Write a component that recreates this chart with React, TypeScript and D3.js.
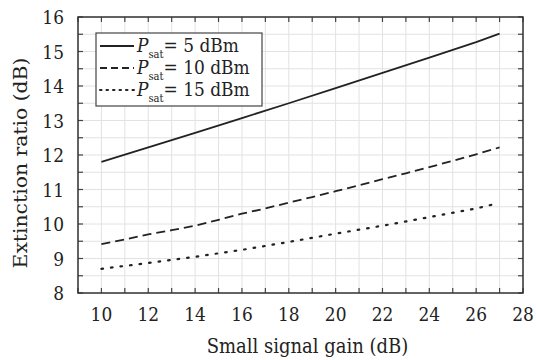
import React from 'react';
import * as d3 from 'd3';

const gain5 = [10, 12, 14, 16, 18, 20, 22, 24, 26, 27];
const ratio5 = [11.8, 12.22, 12.64, 13.07, 13.5, 13.94, 14.38, 14.82, 15.27, 15.52];

const gain10 = [10, 11, 12, 13, 14, 15, 16, 17, 18, 19, 20, 21, 22, 23, 24, 25, 26, 27];
const ratio10 = [9.42, 9.55, 9.7, 9.82, 9.95, 10.12, 10.3, 10.45, 10.62, 10.78, 10.95, 11.12, 11.3, 11.47, 11.65, 11.83, 12.02, 12.22];

const gain15 = [10, 12, 14, 16, 18, 20, 22, 24, 26, 26.8];
const ratio15 = [8.7, 8.87, 9.05, 9.25, 9.48, 9.72, 9.95, 10.2, 10.45, 10.58];

const xTicks = [10, 12, 14, 16, 18, 20, 22, 24, 26, 28];
const yTicks = [8, 9, 10, 11, 12, 13, 14, 15, 16];
const legendLabels = ['5 dBm', '10 dBm', '15 dBm'];

const W = 536;
const H = 360;
const margin = { top: 17, right: 13, bottom: 67, left: 78 };
const font = '"DejaVu Serif", serif';
const ink = '#222';
// the original figure is slightly stretched vertically
const stretch = 1.13;

const series = [
  { gains: gain5, ratios: ratio5, dash: undefined },
  { gains: gain10, ratios: ratio10, dash: '9,5' },
  { gains: gain15, ratios: ratio15, dash: '1.6,8' },
];

const Label: React.FC<{ x: number; y: number; anchor?: string; size?: number; rotate?: number; children: React.ReactNode }> = ({
  x, y, anchor = 'start', size = 17, rotate = 0, children,
}) => (
  <g transform={`translate(${x},${y}) scale(1,${stretch})${rotate ? ` rotate(${rotate})` : ''}`}>
    <text x={0} y={0} textAnchor={anchor} fontFamily={font} fontSize={size} fill={ink}>
      {children}
    </text>
  </g>
);

const App: React.FC = () => {
  const x = d3.scaleLinear().domain([9, 28]).range([margin.left, W - margin.right]);
  const y = d3.scaleLinear().domain([8, 16]).range([H - margin.bottom, margin.top]);

  const xGrid = d3.range(9, 28.01, 1);
  const yGrid = d3.range(8, 16.01, 0.5);

  return (
    <svg width={W} height={H} style={{ position: 'absolute', left: 0, top: 0, background: '#fff' }}>
      {/* grid */}
      {xGrid.map((v) => (
        <line key={'gx' + v} x1={x(v)} x2={x(v)} y1={y(8)} y2={y(16)} stroke="#e2e2e2" strokeWidth={1} />
      ))}
      {yGrid.map((v) => (
        <line key={'gy' + v} x1={x(9)} x2={x(28)} y1={y(v)} y2={y(v)} stroke="#e2e2e2" strokeWidth={1} />
      ))}

      {/* inward ticks on all sides */}
      {xGrid.map((v) => (
        <g key={'tx' + v}>
          <line x1={x(v)} x2={x(v)} y1={y(8)} y2={y(8) - 5} stroke="#444" strokeWidth={1.2} />
          <line x1={x(v)} x2={x(v)} y1={y(16)} y2={y(16) + 5} stroke="#444" strokeWidth={1.2} />
        </g>
      ))}
      {yGrid.map((v) => (
        <g key={'ty' + v}>
          <line x1={x(9)} x2={x(9) + 5} y1={y(v)} y2={y(v)} stroke="#444" strokeWidth={1.2} />
          <line x1={x(28)} x2={x(28) - 5} y1={y(v)} y2={y(v)} stroke="#444" strokeWidth={1.2} />
        </g>
      ))}

      {/* data lines */}
      {series.map((s, i) => {
        const pts = s.gains.map((g, j) => [x(g), y(s.ratios[j])] as [number, number]);
        const path = d3.line()(pts) || '';
        return (
          <path key={'s' + i} d={path} fill="none" stroke={ink} strokeWidth={i === 2 ? 2.2 : 1.8}
            strokeDasharray={s.dash} strokeLinecap={i === 2 ? 'round' : 'butt'} />
        );
      })}

      {/* frame */}
      <rect x={x(9)} y={y(16)} width={x(28) - x(9)} height={y(8) - y(16)} fill="none" stroke="#333" strokeWidth={1.5} />

      {/* tick labels */}
      {xTicks.map((v) => (
        <Label key={'lx' + v} x={x(v)} y={y(8) + 28} anchor="middle">{v}</Label>
      ))}
      {yTicks.map((v) => (
        <Label key={'ly' + v} x={margin.left - 14} y={y(v) + 7} anchor="end">{v}</Label>
      ))}

      {/* axis titles */}
      <Label x={(x(9) + x(28)) / 2 + 7} y={H - 7} anchor="middle" size={18}>Small signal gain (dB)</Label>
      <Label x={27} y={(y(8) + y(16)) / 2 + 8} anchor="middle" size={18} rotate={-90}>Extinction ratio (dB)</Label>

      {/* legend */}
      <g transform="translate(96,33)">
        <rect x={0} y={0} width={166} height={73} fill="#fff" stroke="#444" strokeWidth={1.2} />
        {legendLabels.map((lab, i) => (
          <g key={'lg' + i} transform={`translate(0,${13 + i * 22})`}>
            <line x1={4} x2={38} y1={0} y2={0} stroke={ink} strokeWidth={i === 2 ? 2 : 1.8}
              strokeDasharray={i === 1 ? '7,4' : i === 2 ? '1.5,5' : undefined} strokeLinecap={i === 2 ? 'round' : 'butt'} />
            <g transform={`translate(41,6) scale(1,${stretch})`}>
              <text x={0} y={0} fontFamily={font} fontSize={17} fill={ink}>
                <tspan fontStyle="italic">P</tspan>
                <tspan fontSize={10} dy={5}>sat</tspan>
                <tspan dy={-5}>{'= ' + lab}</tspan>
              </text>
            </g>
          </g>
        ))}
      </g>
    </svg>
  );
};

export default App;
